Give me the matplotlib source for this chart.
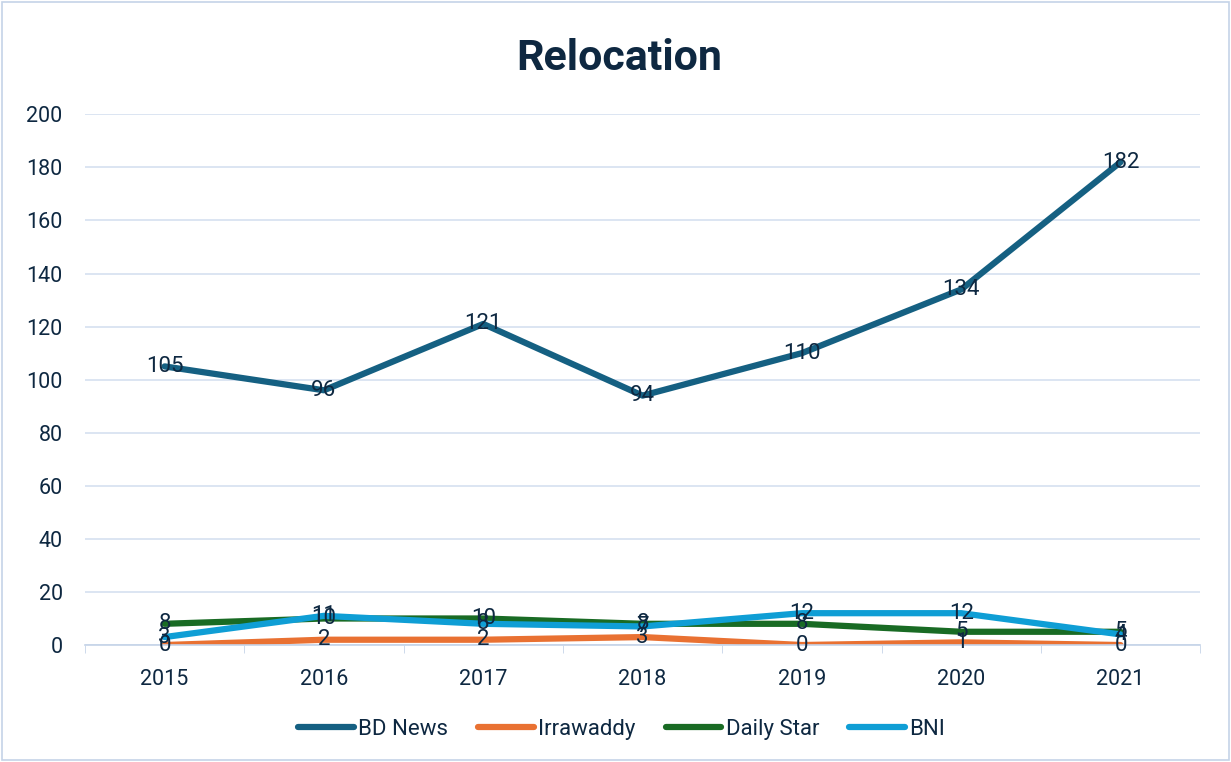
import numpy as np
import matplotlib.pyplot as plt

years = ["2015", "2016", "2017", "2018", "2019", "2020", "2021"]
bd_news = [105, 96, 121, 94, 110, 134, 182]
irrawaddy = [0, 2, 2, 3, 0, 1, 0]
daily_star = [8, 10, 10, 8, 8, 5, 5]
bni = [3, 11, 8, 7, 12, 12, 4]

series = [("BD News", bd_news, "#156082"),
          ("Irrawaddy", irrawaddy, "#E97132"),
          ("Daily Star", daily_star, "#196B24"),
          ("BNI", bni, "#0F9ED5")]

txt = "#0E2841"
plt.rcParams['font.family'] = ['Roboto', 'DejaVu Sans']

fig = plt.figure(figsize=(12.31, 7.62), dpi=100)
ax = fig.add_axes([0.069, 0.1535, 0.906, 0.6965])
x = np.arange(len(years))

# lines with value labels centred on the points (overlaps are in the original too)
for name, vals, col in series:
    ax.plot(x, vals, color=col, lw=4.5, label=name, solid_capstyle='round')
    for xi, v in zip(x, vals):
        ax.text(xi, v, str(v), ha='center', va='center', fontsize=16, color=txt)

ax.set_xlim(-0.5, len(years) - 0.5)
ax.set_ylim(0, 200)
ax.set_yticks(np.arange(0, 201, 20))
ax.set_xticks(x)
ax.set_xticklabels(years)
ax.set_xticks(np.arange(-0.5, len(years), 1), minor=True)
ax.tick_params(axis='x', which='major', length=0, labelsize=15.5, colors=txt, pad=17)
ax.tick_params(axis='x', which='minor', length=6, color="#C5D3E8", direction='out')
ax.tick_params(axis='y', length=0, labelsize=15.5, colors=txt, pad=16)
ax.grid(axis='y', color="#D6E0F0", lw=1.2)
ax.set_axisbelow(True)
for s in ['top', 'right', 'left']:
    ax.spines[s].set_visible(False)
ax.spines['bottom'].set_color("#C5D3E8")
ax.spines['bottom'].set_linewidth(1.2)

fig.text(0.503, 0.923, "Relocation", ha='center', va='center', fontsize=31,
         fontweight='bold', color=txt)

leg = fig.legend(loc='center', bbox_to_anchor=(0.505, 0.043), ncol=4, frameon=False,
                 fontsize=16, labelcolor=txt, handlelength=2.5, columnspacing=1.35,
                 handletextpad=0.2)
for h in leg.get_lines():
    h.set_solid_capstyle('round')

border = plt.Rectangle((0.002, 0.002), 0.996, 0.996, transform=fig.transFigure,
                       fill=False, edgecolor="#C5D3E8", lw=1.2)
fig.patches.append(border)

fig.savefig("out.png", dpi=100)
